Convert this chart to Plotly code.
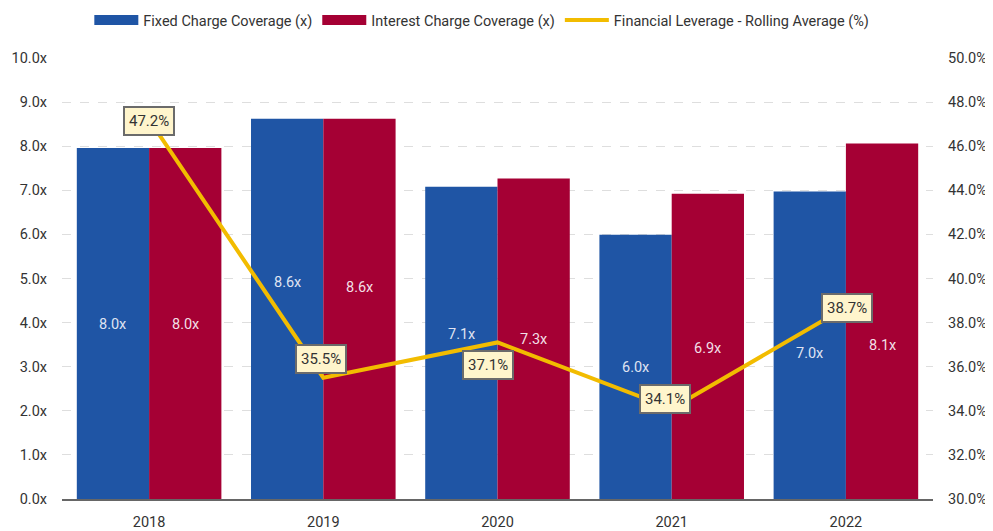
import plotly.graph_objects as go

years = ["2018", "2019", "2020", "2021", "2022"]
fixed_cov = [7.96, 8.62, 7.08, 5.99, 6.97]
interest_cov = [7.96, 8.62, 7.27, 6.92, 8.06]
leverage = [47.2, 35.5, 37.1, 34.1, 38.7]
left_ticks = [0, 1, 2, 3, 4, 5, 6, 7, 8, 9, 10]
right_ticks = [30, 32, 34, 36, 38, 40, 42, 44, 46, 48, 50]

# style: pixel offsets of labels (collision avoidance as in the reference)
label_dy = [-1, 19, -23, 10, -1]
label_dx = [0, -2, -10, -7, 1]
fixed_lbl_dy = [-1, 26, 8, -1, -8]
interest_lbl_dy = [-1, 21, -1, -2, -24]

FONT = "Roboto, Liberation Sans, sans-serif"
BLUE = "#1f55a5"
RED = "#a50034"
GOLD = "#f2bc00"
FS = 14.5
BARGAP = 0.17
HALF = (1 - BARGAP) / 4  # offset of each bar centre from the category centre

fig = go.Figure()
fig.add_trace(go.Bar(
    x=years, y=fixed_cov, name="Fixed Charge Coverage (x)",
    marker=dict(color=BLUE, line=dict(width=0)), showlegend=False,
    legendgroup="fixed",
))
fig.add_trace(go.Bar(
    x=years, y=interest_cov, name="Interest Charge Coverage (x)",
    marker=dict(color=RED, line=dict(width=0)), showlegend=False,
    legendgroup="interest",
))
fig.add_trace(go.Scatter(
    x=years, y=leverage, name="Financial Leverage - Rolling Average (%)",
    mode="lines", line=dict(color=GOLD, width=4), yaxis="y2", showlegend=False,
    legendgroup="lev",
))
# legend-only entries (wide swatches like the reference)
for nm, col, w, grp in [("Fixed Charge Coverage (x)", BLUE, 10, "fixed"),
                        ("Interest Charge Coverage (x)", RED, 10, "interest"),
                        ("Financial Leverage - Rolling Average (%)", GOLD, 4, "lev")]:
    fig.add_trace(go.Scatter(x=[None], y=[None], mode="lines", name=nm,
                             line=dict(color=col, width=w), legendgroup=grp,
                             hoverinfo="skip"))

# bar value labels
for i, (fv, iv, fdy, idy) in enumerate(zip(fixed_cov, interest_cov,
                                            fixed_lbl_dy, interest_lbl_dy)):
    fig.add_annotation(x=i - HALF, y=fv / 2, xref="x", yref="y",
                       text=f"{fv:.1f}x", showarrow=False, yshift=fdy,
                       font=dict(size=FS, color="#dfe3f2", family=FONT))
    fig.add_annotation(x=i + HALF, y=iv / 2, xref="x", yref="y",
                       text=f"{iv:.1f}x", showarrow=False, yshift=idy,
                       font=dict(size=FS, color="#f2dfe6", family=FONT))

# leverage labels
for i, (v, dy, dx) in enumerate(zip(leverage, label_dy, label_dx)):
    fig.add_annotation(
        x=i, xref="x", y=v, yref="y2", text=f"{v:.1f}%", showarrow=False,
        yshift=dy, xshift=dx, bgcolor="#fff5cc", bordercolor="#6b6b6b",
        borderwidth=2, borderpad=4,
        font=dict(size=15, color="#333333", family=FONT),
    )

fig.update_layout(
    width=993, height=531,
    margin=dict(l=54, r=68, t=50, b=40, autoexpand=False),
    paper_bgcolor="white", plot_bgcolor="white",
    font=dict(family=FONT, size=FS, color="#333333"),
    barmode="group", bargap=BARGAP, bargroupgap=0,
    showlegend=True,
    legend=dict(orientation="h", x=0.482, xanchor="center", y=1.086, yanchor="middle",
                font=dict(size=FS, color="#333333"), itemwidth=44,
                traceorder="normal"),
    xaxis=dict(type="category", range=[-0.5, 4.5], showline=True,
               linecolor="#666666", linewidth=2, automargin=False,
               ticks="", tickfont=dict(size=FS), showgrid=False,
               ticklabelstandoff=9),
    yaxis=dict(range=[0, 10], tickvals=left_ticks, automargin=False,
               ticktext=[f"{v:.1f}x" for v in left_ticks],
               showgrid=True, gridcolor="#dedede", griddash="dash", gridwidth=1,
               zeroline=False, tickfont=dict(size=FS), ticklabelstandoff=14),
    yaxis2=dict(range=[30, 50], tickvals=right_ticks, automargin=False,
                ticktext=[f"{v:.1f}%" for v in right_ticks],
                overlaying="y", side="right", showgrid=False, zeroline=False,
                tickfont=dict(size=FS), ticklabelstandoff=14),
)

fig.write_html("out.html")
